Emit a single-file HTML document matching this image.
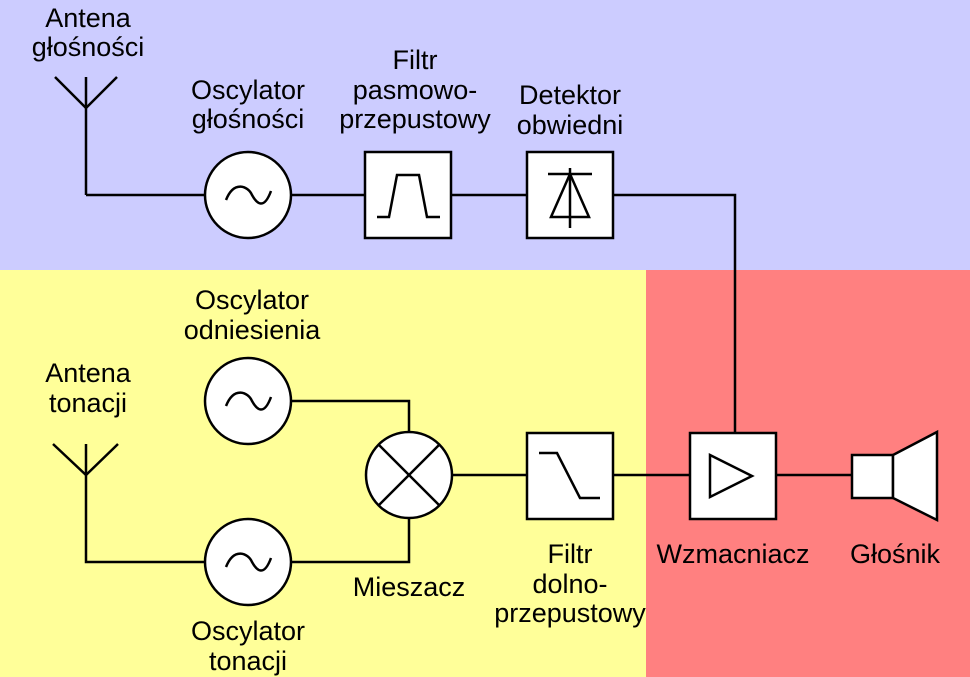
<!DOCTYPE html>
<html><head><meta charset="utf-8"><style>
html,body{margin:0;padding:0;width:970px;height:677px;overflow:hidden}
svg{display:block}
text{font-family:"Liberation Sans",sans-serif;font-size:27px;fill:#000;text-anchor:middle}
</style></head><body>
<svg width="970" height="677" viewBox="0 0 970 677" xmlns="http://www.w3.org/2000/svg">
<rect x="0" y="0" width="970" height="270" fill="#ccccff"/>
<rect x="0" y="270" width="646" height="407" fill="#ffff99"/>
<rect x="646" y="270" width="324" height="407" fill="#ff8080"/>
<g stroke="#000" stroke-width="2.5" fill="none">
<polyline points="55,77 86,108 117,77"/>
<line x1="86" y1="77" x2="86" y2="195"/>
<line x1="86" y1="195" x2="205" y2="195"/>
<line x1="291" y1="195" x2="365" y2="195"/>
<line x1="451" y1="195" x2="527" y2="195"/>
<polyline points="613,195 735,195 735,433"/>
<polyline points="53,444 86,475 118,444"/>
<line x1="86" y1="444" x2="86" y2="475"/>
<polyline points="86,475 86,562 205,562"/>
<polyline points="291,562 409,562 409,518"/>
<polyline points="291,401 409,401 409,433"/>
<line x1="452" y1="475" x2="527" y2="475"/>
<line x1="613" y1="475" x2="690" y2="475"/>
<line x1="776" y1="475" x2="852" y2="475"/>
</g>
<g stroke="#000" stroke-width="2.5" fill="#fff">
<ellipse cx="248" cy="195" rx="43" ry="43"/>
<rect x="365" y="152" width="86" height="86"/>
<rect x="527" y="152" width="86" height="86"/>
<ellipse cx="248" cy="401" rx="43" ry="43"/>
<ellipse cx="248" cy="562" rx="43" ry="43"/>
<ellipse cx="409" cy="475" rx="43" ry="43"/>
<rect x="527" y="433" width="86" height="86"/>
<rect x="690" y="433" width="86" height="86"/>
<rect x="852" y="455" width="41" height="43"/>
<polygon points="893,455 937,432 937,520 893,498"/>
</g>
<g stroke="#000" stroke-width="2.5" fill="none">
<path d="M226,200 C234,180 248,186 252,195 C257,204 264,210 271,191"/>
<path d="M226,406 C234,386 248,392 252,401 C257,410 264,416 271,397"/>
<path d="M226,567 C234,547 248,553 252,562 C257,571 264,577 271,558"/>
<polyline points="377,217 389,217 397,175 419,175 427,217 440,217"/>
<line x1="548" y1="174" x2="592" y2="174"/>
<line x1="570" y1="168" x2="570" y2="228"/>
<polygon points="570,174 551,217 589,217"/>
<line x1="379" y1="445" x2="439" y2="505"/>
<line x1="439" y1="445" x2="379" y2="505"/>
<polyline points="539,453 557,453 580,498 600,498"/>
<polygon points="710,455 752,476 710,497"/>
</g>
<text x="88" y="27">Antena</text>
<text x="88" y="56">głośności</text>
<text x="248" y="99">Oscylator</text>
<text x="248" y="128">głośności</text>
<text x="415" y="69">Filtr</text>
<text x="415" y="99">pasmowo-</text>
<text x="415" y="128">przepustowy</text>
<text x="570" y="104">Detektor</text>
<text x="570" y="134">obwiedni</text>
<text x="252" y="309">Oscylator</text>
<text x="252" y="339">odniesienia</text>
<text x="88" y="382">Antena</text>
<text x="88" y="412">tonacji</text>
<text x="409" y="596">Mieszacz</text>
<text x="570" y="563">Filtr</text>
<text x="570" y="593">dolno-</text>
<text x="570" y="622">przepustowy</text>
<text x="733" y="563">Wzmacniacz</text>
<text x="895" y="563">Głośnik</text>
<text x="248" y="640">Oscylator</text>
<text x="248" y="670">tonacji</text>
</svg>
</body></html>
